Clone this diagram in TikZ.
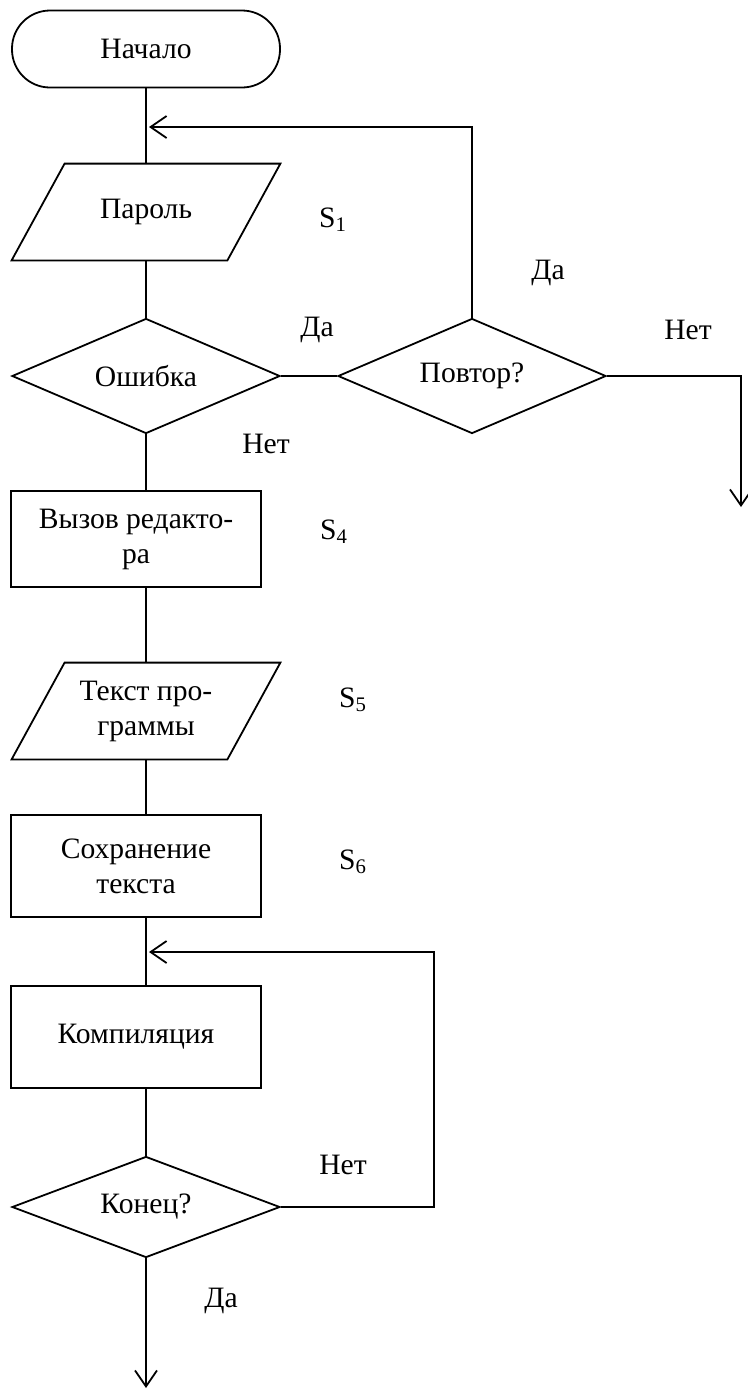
\documentclass[tikz,border=0pt]{standalone}
\usepackage{fontspec}
\setmainfont{Liberation Serif}
\usetikzlibrary{shapes.geometric,arrows.meta}

\begin{document}
\begin{tikzpicture}[
    x=0.5pt, y=-0.5pt,
    every node/.style={font=\fontsize{14.8}{17.5}\selectfont},
    line/.style={line width=0.9pt},
    arrow line/.style={line width=0.9pt, -{Straight Barb[length=8pt,width=11pt]}},
    terminal/.style={draw, line width=0.9pt, rectangle, rounded corners=19pt,
      minimum width=134pt, minimum height=38.5pt, inner sep=0pt},
    io/.style={rectangle, minimum width=134pt, minimum height=48pt,
      inner sep=0pt, align=center},
    process/.style={draw, line width=0.9pt, rectangle, minimum width=125pt,
      inner sep=0pt, align=center},
    decision/.style={draw, line width=0.9pt, diamond, aspect=2.33,
      minimum width=134pt, minimum height=57.5pt, inner sep=0pt},
  ]

  \useasboundingbox (0,0) rectangle (748,1389);

  % --- Blocks (pixel grid, y downwards) ---
  \node[terminal] (start) at (146,49) {Начало};
  \node[io] (pass) at (146,212) {Пароль};
  \node[decision] (err) at (146,376) {Ошибка};
  \node[decision] (rep) at (472,376) {Повтор?};
  \node[process, minimum height=48pt] (call) at (136,539) {Вызов редакто-\\ра};
  \node[io] (src) at (146,711) {Текст про-\\граммы};
  \node[process, minimum height=51pt] (save) at (136,866) {Сохранение\\текста};
  \node[process, minimum height=51pt] (comp) at (136,1037) {Компиляция};
  \node[decision, minimum height=50.5pt] (fin) at (146,1207) {Конец?};

  % parallelograms round the input blocks (slant 26.5pt)
  \foreach \n in {pass, src}
    \draw[line] ([xshift=26.5pt]\n.north west) -- (\n.north east)
      -- ([xshift=-26.5pt]\n.south east) -- (\n.south west) -- cycle;

  % --- Joints and free ends ---
  \coordinate (j1) at (149,127);          % return to the password input
  \coordinate (out) at (741,507);         % exit on "Нет"
  \coordinate (j2) at (149,952);          % return to compilation
  \coordinate (loop) at (434,952);
  \coordinate (down) at (146,1388);       % exit on "Да"

  % --- Main line ---
  \draw[line] (start) -- (pass);
  \draw[line] (pass) -- (err);
  \draw[line] (err.south) -- (call.north -| err.south);
  \draw[line] (call.south -| src.north) -- (src.north);
  \draw[line] (src.south) -- (save.north -| src.south);
  \draw[line] (save.south -| src.south) -- (comp.north -| src.south);
  \draw[line] (comp.south -| fin.north) -- (fin.north);
  \draw[arrow line] (fin.south) -- (down);

  % --- Error branch ---
  \draw[line] (err.east) -- (rep.west);
  \draw[arrow line] (rep.north) |- (j1);
  \draw[arrow line] (rep.east) -| (out);

  % --- Compilation loop ---
  \draw[arrow line] (fin.east) -| (loop) -- (j2);

  % --- Branch labels ---
  \node (yes1) at (317,330) {Да};
  \node (yes2) at (548,273) {Да};
  \node (no1) at (688,330) {Нет};
  \node (no2) at (266,444) {Нет};
  \node (no3) at (343,1165) {Нет};
  \node (yes3) at (221,1301) {Да};

  % --- Step marks ---
  \node (s1) at (333,220) {S\textsubscript{1}};
  \node (s4) at (334,532) {S\textsubscript{4}};
  \node (s5) at (353,700) {S\textsubscript{5}};
  \node (s6) at (353,862) {S\textsubscript{6}};

\end{tikzpicture}
\end{document}
